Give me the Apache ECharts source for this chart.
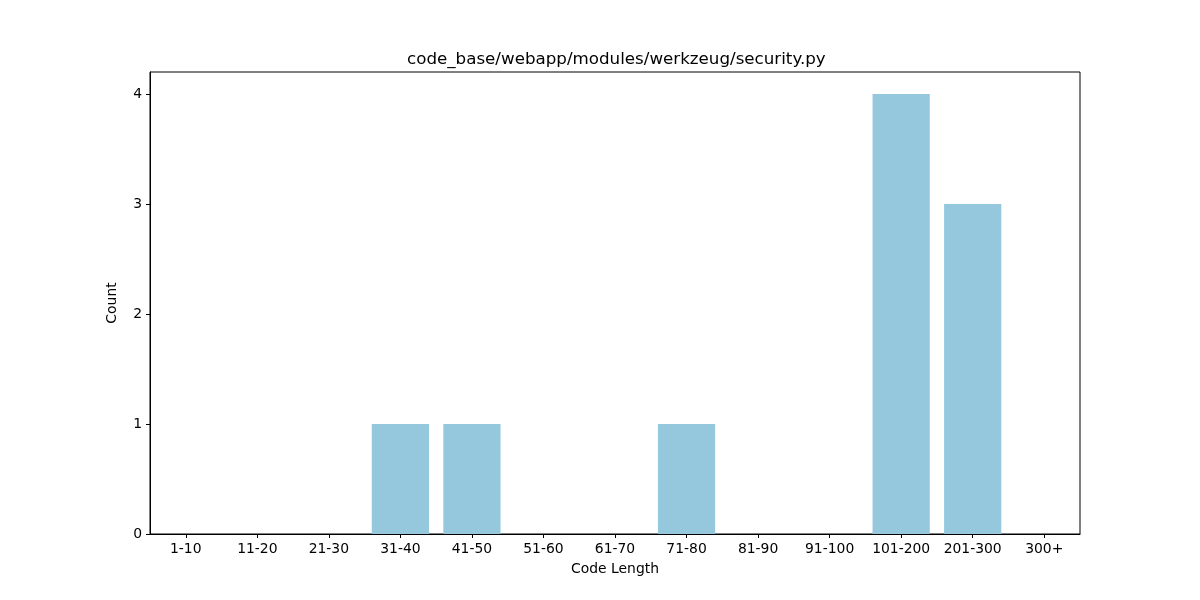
<!DOCTYPE html>
<html>
<head>
<meta charset="utf-8">
<script src="https://cdn.jsdelivr.net/npm/echarts@6/dist/echarts.min.js"></script>
<style>
  html, body { margin: 0; padding: 0; background: #fff; }
  #chart { width: 1200px; height: 600px; }
</style>
</head>
<body>
<div id="chart"></div>
<script>
const categories = ['1-10', '11-20', '21-30', '31-40', '41-50', '51-60', '61-70', '71-80', '81-90', '91-100', '101-200', '201-300', '300+'];
const counts = [0, 0, 0, 1, 1, 0, 0, 1, 0, 0, 4, 3, 0];

const chart = echarts.init(document.getElementById('chart'));
const font = 'DejaVu Sans';

chart.setOption({
  animation: false,
  // title sits centred over the axes (615), not the page
  title: {
    text: 'code_base/webapp/modules/werkzeug/security.py',
    left: 402,
    top: 46,
    textStyle: { fontFamily: font, fontSize: 16.7, fontWeight: 'normal', color: '#000' }
  },
  grid: {
    left: 150, right: 120, top: 72, bottom: 66,
    show: true, borderColor: '#000', borderWidth: 1, backgroundColor: 'transparent'
  },
  xAxis: {
    type: 'category',
    data: categories,
    name: 'Code Length',
    nameLocation: 'middle',
    nameGap: 28,
    nameTextStyle: { fontFamily: font, fontSize: 13.9, color: '#000' },
    axisLine: { show: true, lineStyle: { color: '#000' } },
    axisTick: { show: true, alignWithLabel: true, length: 4, lineStyle: { color: '#000' } },
    axisLabel: { fontFamily: font, fontSize: 13.9, color: '#000', margin: 8, interval: 0 },
    splitLine: { show: false }
  },
  yAxis: {
    type: 'value',
    min: 0,
    max: 4.2,
    interval: 1,
    name: 'Count',
    nameLocation: 'middle',
    nameGap: 31,
    nameTextStyle: { fontFamily: font, fontSize: 13.9, color: '#000' },
    axisLine: { show: true, lineStyle: { color: '#000' } },
    axisTick: { show: true, length: 4, lineStyle: { color: '#000' } },
    axisLabel: { fontFamily: font, fontSize: 13.9, color: '#000', margin: 8, showMaxLabel: false },
    splitLine: { show: false }
  },
  series: [{
    type: 'bar',
    data: counts,
    barWidth: '80%',
    itemStyle: { color: '#95c8dc' }
  }]
});
</script>
</body>
</html>
